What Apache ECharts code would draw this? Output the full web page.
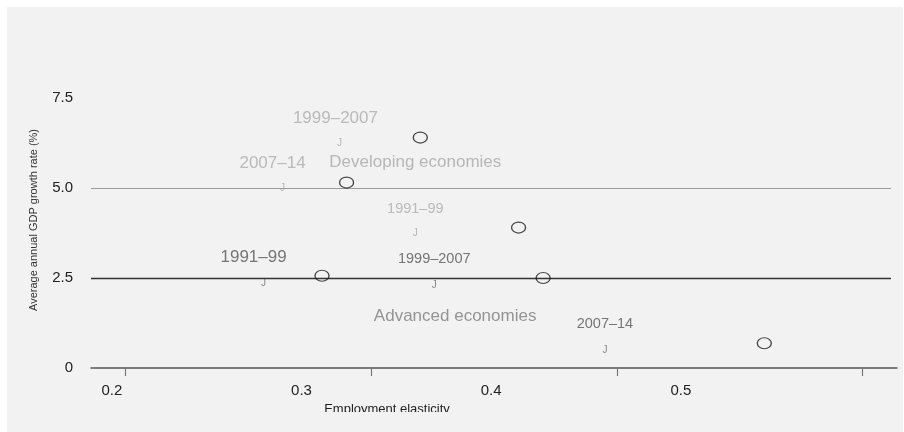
<!DOCTYPE html>
<html>
<head>
<meta charset="utf-8">
<title>Employment elasticity and GDP growth</title>
<script src="https://cdn.jsdelivr.net/npm/echarts@6/dist/echarts.min.js"></script>
<style>
  html, body { margin: 0; padding: 0; background: #ffffff; }
  #chart { width: 904px; height: 432px; }
</style>
</head>
<body>
<div id="chart"></div>
<script>
// Periods, in the order used by every series array below
const periods = ['1991\u201399', '1999\u20132007', '2007\u201314'];

// Advanced economies: employment elasticity and average annual GDP growth (%)
const advancedElasticity = [0.28, 0.37, 0.46];
const advancedGrowth = [2.56, 2.5, 0.69];

// Developing economies
const developingElasticity = [0.36, 0.32, 0.29];
const developingGrowth = [3.9, 6.4, 5.15];

// Axis ticks and labels
const xTickValues = [0.2, 0.3, 0.4, 0.5];
const xLabelValues = [0.2, 0.3, 0.4, 0.5];
const yTickValues = [0, 2.5, 5.0, 7.5];

// Horizontal reference levels of growth (%)
const referenceLevels = [2.5, 5.0];

// Group captions
const groupNames = ['Advanced economies', 'Developing economies'];

const FONT = '"Liberation Sans", Arial, Helvetica, sans-serif';

const chart = echarts.init(document.getElementById('chart'), null, { renderer: 'canvas' });

function pairs(xs, ys) {
  return xs.map((x, i) => [x, ys[i], periods[i]]);
}

// caption typography per group: compact captions are set smaller
const compactCaption = {
  advanced: [false, true, true],
  developing: [true, false, false]
};
const captionShift = {
  advanced: [-10, 0, 0],
  developing: [0, -4, -10]
};

function periodLabels(xs, ys, group, color) {
  return pairs(xs, ys).map((d, i) => {
    const compact = compactCaption[group][i];
    return {
      value: d,
      label: {
        fontSize: compact ? 14.5 : 17,
        offset: [captionShift[group][i], -19],
        color: color
      }
    };
  });
}

const labelAxisMin = 0.189, labelAxisMax = 0.614;

const option = {
  backgroundColor: '#ffffff',
  animation: false,
  textStyle: { fontFamily: FONT },
  grid: { left: 91, right: 7, top: 98, bottom: 64, containLabel: false },
  xAxis: [
    {
      type: 'value',
      min: labelAxisMin,
      max: labelAxisMax,
      position: 'bottom',
      axisLine: { show: true, lineStyle: { color: '#555555', width: 1.5 } },
      axisTick: { show: false },
      splitLine: { show: false },
      axisLabel: {
        customValues: xLabelValues,
        color: '#222222',
        fontSize: 15,
        margin: 15,
        formatter: v => v.toFixed(1)
      }
    },
    {
      type: 'value',
      min: 0.186,
      max: 0.514,
      position: 'bottom',
      axisLine: { show: false },
      axisTick: {
        show: true,
        customValues: xTickValues,
        length: 8,
        lineStyle: { color: '#777777', width: 1.2 }
      },
      axisLabel: { show: false },
      splitLine: { show: false }
    }
  ],
  yAxis: {
    type: 'value',
    min: 0,
    max: 7.5,
    interval: 2.5,
    axisLine: { show: false },
    axisTick: { show: false },
    splitLine: { show: false },
    axisLabel: {
      customValues: yTickValues,
      color: '#222222',
      fontSize: 15,
      margin: 18,
      formatter: v => (v === 0 ? '0' : v.toFixed(1))
    }
  },
  series: [
    {
      name: 'Advanced economies',
      type: 'scatter',
      xAxisIndex: 1,
      symbol: 'circle',
      symbolSize: [14, 11],
      z: 5,
      itemStyle: { color: 'rgba(0,0,0,0)', borderColor: '#1a1a1a', borderWidth: 1.2 },
      data: pairs(advancedElasticity, advancedGrowth)
    },
    {
      name: 'Developing economies',
      type: 'scatter',
      xAxisIndex: 1,
      symbol: 'circle',
      symbolSize: [14, 11],
      z: 5,
      itemStyle: { color: 'rgba(0,0,0,0)', borderColor: '#1a1a1a', borderWidth: 1.2 },
      data: pairs(developingElasticity, developingGrowth)
    },
    {
      // anchor glyphs, advanced; also carries the reference levels
      type: 'scatter',
      xAxisIndex: 0,
      symbolSize: 1,
      itemStyle: { color: 'rgba(0,0,0,0)' },
      label: {
        show: true, position: 'inside', formatter: 'J', offset: [0, 7],
        fontSize: 10, color: '#6a6a6a', fontFamily: FONT
      },
      data: pairs(advancedElasticity, advancedGrowth),
      markLine: {
        silent: true,
        symbol: 'none',
        label: { show: false },
        data: referenceLevels.map((lv, i) => [
          { coord: [labelAxisMin, lv], lineStyle: { color: i === 0 ? '#333333' : '#9a9a9a', width: i === 0 ? 1.3 : 1, type: 'solid' } },
          { coord: [0.6108, lv] }
        ])
      }
    },
    {
      // anchor glyphs, developing
      type: 'scatter',
      xAxisIndex: 0,
      symbolSize: 1,
      itemStyle: { color: 'rgba(0,0,0,0)' },
      label: {
        show: true, position: 'inside', formatter: 'J', offset: [0, 6],
        fontSize: 10, color: '#a8a8a8', fontFamily: FONT
      },
      data: pairs(developingElasticity, developingGrowth)
    },
    {
      // period captions, advanced
      type: 'scatter',
      xAxisIndex: 0,
      symbolSize: 1,
      itemStyle: { color: 'rgba(0,0,0,0)' },
      label: {
        show: true, position: 'inside', fontSize: 17,
        formatter: p => p.value[2]
      },
      data: periodLabels(advancedElasticity, advancedGrowth, 'advanced', '#555555')
    },
    {
      // period captions, developing
      type: 'scatter',
      xAxisIndex: 0,
      symbolSize: 1,
      itemStyle: { color: 'rgba(0,0,0,0)' },
      label: {
        show: true, position: 'inside', fontSize: 17,
        formatter: p => p.value[2]
      },
      data: periodLabels(developingElasticity, developingGrowth, 'developing', '#ababab')
    },
    {
      // group captions
      type: 'scatter',
      xAxisIndex: 0,
      symbolSize: 1,
      itemStyle: { color: 'rgba(0,0,0,0)' },
      label: { show: true, position: 'inside', fontSize: 17, formatter: p => p.value[2] },
      data: [
        { value: [0.381, 1.44, groupNames[0]], label: { color: '#7c7c7c' } },
        { value: [0.360, 5.72, groupNames[1]], label: { color: '#a8a8a8' } }
      ]
    }
  ],
  graphic: [
    {
      type: 'rect', z: -10, silent: true,
      shape: { x: 7, y: 7, width: 896, height: 425 },
      style: { fill: '#f2f2f2' }
    },
    {
      type: 'text', z: 10, silent: true,
      x: 34, y: 220, rotation: Math.PI / 2,
      style: {
        text: 'Average annual GDP growth rate (%)',
        fill: '#333333', font: '11px ' + FONT,
        textAlign: 'center', textVerticalAlign: 'middle'
      }
    },
    {
      type: 'text', z: 10, silent: true,
      x: 387, y: 409,
      style: {
        text: 'Employment elasticity',
        fill: '#222222', font: '13px ' + FONT,
        textAlign: 'center', textVerticalAlign: 'middle'
      }
    },
    {
      // lower panel margin trims the axis title
      type: 'rect', z: 11, silent: true,
      shape: { x: 7, y: 412, width: 896, height: 20 },
      style: { fill: '#f2f2f2' }
    }
  ]
};

chart.setOption(option);
</script>
</body>
</html>
